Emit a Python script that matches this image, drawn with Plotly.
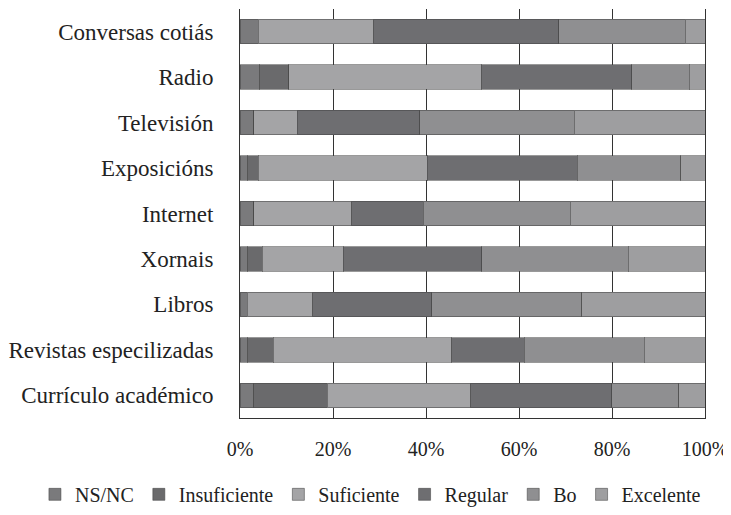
import plotly.graph_objects as go

categories = ["Conversas cotiás", "Radio", "Televisión", "Exposicións", "Internet",
              "Xornais", "Libros", "Revistas especilizadas", "Currículo académico"]
series_names = ["NS/NC", "Insuficiente", "Suficiente", "Regular", "Bo", "Excelente"]

ns_nc        = [3.9, 4.1, 3.0, 1.6, 3.0, 1.6, 1.6, 1.6, 3.0]
insuficiente = [0.0, 6.4, 0.0, 2.3, 0.0, 3.2, 0.0, 5.6, 15.8]
suficiente   = [24.9, 41.5, 9.3, 36.4, 21.0, 17.4, 14.0, 38.3, 30.8]
regular      = [39.8, 32.2, 26.4, 32.2, 15.4, 29.8, 25.6, 15.6, 30.3]
bo           = [27.1, 12.4, 33.2, 22.3, 31.6, 31.5, 32.3, 25.8, 14.4]
excelente    = [4.3, 3.4, 28.1, 5.2, 29.0, 16.5, 26.5, 13.1, 5.7]

tick_vals = [0, 20, 40, 60, 80, 100]
tick_text = ["0%", "20%", "40%", "60%", "80%", "100%"]

colors = ["#7a7a7c", "#6a6a6c", "#a4a4a6", "#6e6e71", "#8f8f91", "#9e9ea0"]
values = [ns_nc, insuficiente, suficiente, regular, bo, excelente]

fig = go.Figure()
for name, vals, col in zip(series_names, values, colors):
    fig.add_trace(go.Bar(
        y=categories, x=vals, name=name, orientation="h",
        marker=dict(color=col, line=dict(color="rgba(70,70,70,0.55)", width=1)),
    ))

font_family = "Liberation Serif"
# The page body has an 8px default margin, so the figure is sized to fit the window.
fig.update_layout(
    barmode="stack",
    bargap=0.46,
    width=723, height=507,
    autosize=False,
    margin=dict(l=232, r=26, t=1, b=95),
    paper_bgcolor="white", plot_bgcolor="white",
    font=dict(family=font_family, size=22, color="#222"),
    showlegend=True,
    legend=dict(orientation="h", x=-0.441, xanchor="left", y=-0.139, yanchor="top",
                font=dict(family=font_family, size=20, color="#222"),
                traceorder="normal", itemwidth=30),
    xaxis=dict(range=[0, 100], tickvals=tick_vals, ticktext=tick_text,
               tickfont=dict(size=20),
               showgrid=True, gridcolor="#333", gridwidth=1,
               showline=True, linecolor="#333", linewidth=1,
               ticks="", ticklabelstandoff=13, zeroline=False, automargin=False),
    yaxis=dict(autorange="reversed", showgrid=False, tickfont=dict(size=23),
               showline=True, mirror=True, linecolor="#333", linewidth=1,
               ticks="", ticklabelstandoff=21, automargin=False),
)

fig.write_html("out.html", config={"displayModeBar": False},
               post_script="document.documentElement.style.overflow='hidden';")
